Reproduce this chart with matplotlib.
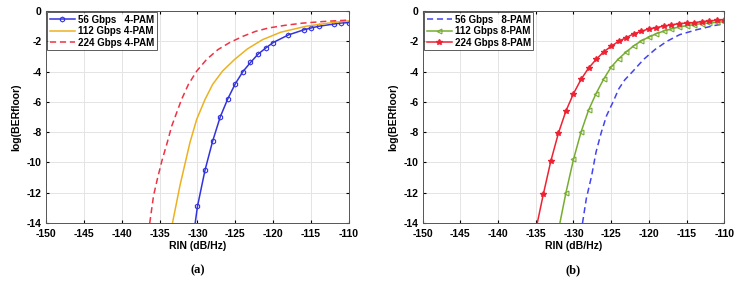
import matplotlib
matplotlib.use("Agg")
import matplotlib.pyplot as plt

# ---- data ----
# (a) 4-PAM
rin_56_4 = [-130.3, -130, -129, -128, -127, -126, -125, -124, -123, -122, -121, -120,
            -118, -116, -115, -114, -112, -111, -110]
ber_56_4 = [-14, -12.9, -10.5, -8.6, -7.0, -5.8, -4.8, -4.0, -3.4, -2.85, -2.45, -2.08,
            -1.58, -1.25, -1.12, -1.01, -0.86, -0.79, -0.77]

rin_112_4 = [-133.3, -132.3, -131.0, -130.1, -129.0, -128.0, -126.7, -125.1, -123.4,
             -121.4, -119.0, -115.6, -112.0, -110]
ber_112_4 = [-14, -11.5, -8.7, -7.15, -5.84, -4.85, -3.97, -3.2, -2.5, -1.89, -1.4,
             -1.0, -0.75, -0.65]

rin_224_4 = [-136.3, -135.8, -135.3, -134.7, -134.0, -133.4, -132.1, -131.2, -130.1,
             -128.8, -127.3, -125.8, -124.0, -122.3, -120.6, -118.5, -116.1, -113, -110]
ber_224_4 = [-14, -12.2, -11.1, -9.9, -8.7, -7.6, -5.84, -4.85, -3.97, -3.2, -2.55,
             -2.1, -1.67, -1.34, -1.12, -0.95, -0.8, -0.68, -0.6]

# (b) 8-PAM
rin_56_8 = [-128.8, -128.3, -127.6, -127.0, -126.3, -125.6, -124.7, -124.0, -123.2,
            -122.1, -120.7, -119.2, -117.6, -115.9, -113.6, -111.4, -110]
ber_56_8 = [-14, -12.4, -10.9, -9.3, -8.0, -6.9, -5.95, -5.15, -4.55, -3.97, -3.2, -2.55,
            -2.0, -1.56, -1.23, -0.97, -0.84]

rin_112_8 = [-131.8, -131, -130, -129, -128, -127, -126, -125, -124, -123, -122, -121,
             -120, -119, -118, -117, -116, -115, -114, -113, -112, -111, -110]
ber_112_8 = [-14, -12.0, -9.8, -8.0, -6.55, -5.45, -4.5, -3.7, -3.15, -2.7, -2.3, -1.97,
             -1.72, -1.5, -1.32, -1.18, -1.05, -0.97, -0.9, -0.83, -0.79, -0.75, -0.7]

rin_224_8 = [-134.8, -134, -133, -132, -131, -130, -129, -128, -127, -126, -125, -124,
             -123, -122, -121, -120, -119, -118, -117, -116, -115, -114, -113, -112,
             -111, -110]
ber_224_8 = [-14, -12.1, -9.9, -8.07, -6.6, -5.46, -4.52, -3.77, -3.2, -2.7, -2.33, -2.0,
             -1.76, -1.5, -1.34, -1.18, -1.1, -0.99, -0.92, -0.83, -0.8, -0.77, -0.7,
             -0.66, -0.61, -0.57]

xticks = list(range(-150, -109, 5))
yticks = list(range(-14, 1, 2))

plt.rcParams['font.family'] = ['Liberation Sans', 'DejaVu Sans']
plt.rcParams['axes.unicode_minus'] = False

fig = plt.figure(figsize=(7.39, 2.82), dpi=100)
ax1 = fig.add_axes([0.0622, 0.209, 0.410, 0.752])
ax2 = fig.add_axes([0.572, 0.209, 0.408, 0.752])

ax1.plot(rin_56_4, ber_56_4, color='#3333dd', lw=1.1, marker='h', ms=3.5,
         mfc='none', mew=0.8, markevery=list(range(1, len(rin_56_4))),
         label='56 Gbps   4-PAM')
ax1.plot(rin_112_4, ber_112_4, color='#EDB120', lw=1.1, label='112 Gbps 4-PAM')
ax1.plot(rin_224_4, ber_224_4, color='#ee3344', lw=1.1, ls=(0, (4, 2.5)),
         label='224 Gbps 4-PAM')

ax2.plot(rin_56_8, ber_56_8, color='#4444ee', lw=1.1, ls=(0, (4, 2.5)),
         label='56 Gbps   8-PAM')
ax2.plot(rin_112_8, ber_112_8, color='#77AC30', lw=1.1, marker='<', ms=3.5,
         mfc='none', mew=0.8, markevery=list(range(1, len(rin_112_8))),
         label='112 Gbps 8-PAM')
ax2.plot(rin_224_8, ber_224_8, color='#ee2233', lw=1.1, marker='*', ms=4,
         markevery=list(range(1, len(rin_224_8))), label='224 Gbps 8-PAM')

for ax, cap in ((ax1, '(a)'), (ax2, '(b)')):
    ax.set_xlim(-150, -110)
    ax.set_ylim(-14, 0)
    ax.set_xticks(xticks)
    ax.set_yticks(yticks)
    ax.grid(True, color='#e4e4e4', lw=0.7)
    ax.set_axisbelow(True)
    ax.tick_params(labelsize=7.5, length=2, direction='in', top=True, right=True)
    ax.tick_params(axis='x', pad=4)
    ax.tick_params(axis='y', pad=3)
    for lab in ax.get_xticklabels() + ax.get_yticklabels():
        lab.set_fontweight('bold')
    for s in ax.spines.values():
        s.set_color('#555555')
        s.set_linewidth(0.7)
    ax.set_xlabel('RIN (dB/Hz)', fontsize=7.5, fontweight='bold', labelpad=2)
    ax.set_ylabel('log(BERfloor)', fontsize=7.5, fontweight='bold', labelpad=4)
    leg = ax.legend(loc='upper left', prop={'weight': 'bold', 'size': 7},
                    frameon=True, fancybox=False, borderpad=0.25, labelspacing=0.15,
                    handlelength=2.6, handletextpad=0.3, borderaxespad=0.15)
    leg.get_frame().set_edgecolor('#333333')
    leg.get_frame().set_linewidth(0.7)
    ax.text(0.5, -0.222, cap, transform=ax.transAxes, ha='center', va='center',
            fontsize=9, fontweight='bold', family='Liberation Serif')

fig.savefig('out.png', dpi=100)
